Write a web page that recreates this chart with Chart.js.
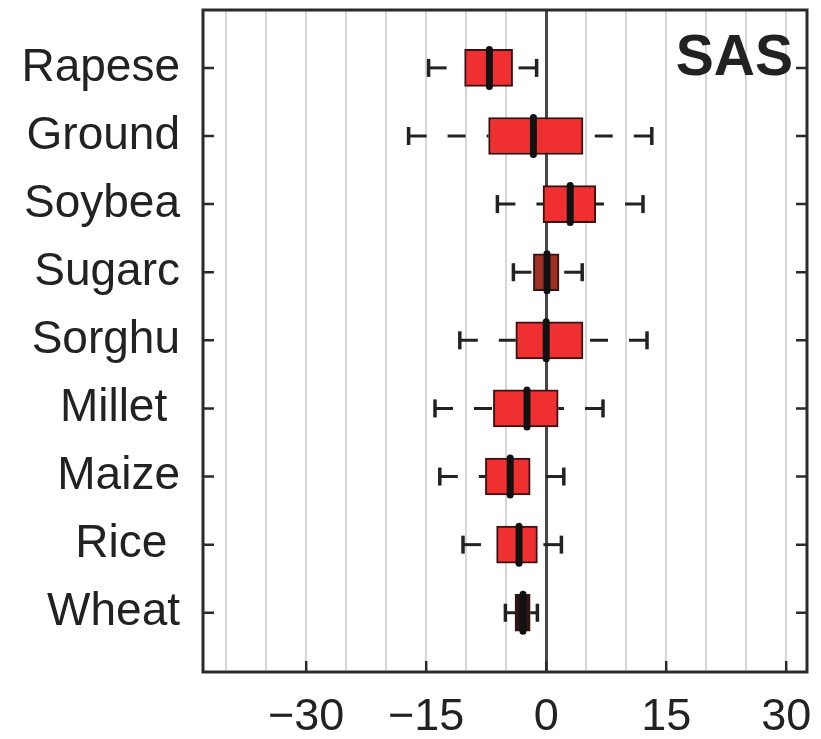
<!DOCTYPE html>
<html>
<head>
<meta charset="utf-8">
<script src="https://cdn.jsdelivr.net/npm/chart.js@4.4.1/dist/chart.umd.min.js"></script>
<style>
  html, body { margin: 0; padding: 0; background: #fff; }
</style>
</head>
<body>
<canvas id="boxChart" width="821" height="739"></canvas>
<script>
// crops, top to bottom
const crops = ["Rapese", "Ground", "Soybea", "Sugarc", "Sorghu", "Millet ", "Maize", "Rice ", "Wheat"];

// box statistics (% change)
const whiskerLow  = [-14.7, -17.2, -6.1, -4.1, -10.8, -13.9, -13.3, -10.4, -5.1];
const quart1      = [-10.2,  -7.2, -0.4, -1.6,  -3.8,  -6.6,  -7.6,  -6.2, -3.9];
const median      = [ -7.1,  -1.6,  3.0,  0.1,   0.0,  -2.4,  -4.5,  -3.4, -2.9];
const quart3      = [ -4.2,   4.6,  6.2,  1.6,   4.6,   1.5,  -2.0,  -1.1, -2.0];
const whiskerHigh = [ -1.2,  13.2, 12.1,  4.5,  12.6,   7.1,   2.2,   1.9, -1.1];

const boxColors = ["#f03030", "#f03030", "#f03030", "#9e3026", "#f03030", "#f03030", "#f03030", "#f03030", "#2a1616"];

const tickValues = [-30, -15, 0, 15, 30];
const gridValues = [-40, -35, -30, -25, -20, -15, -10, -5, 0, 5, 10, 15, 20, 25, 30];

const regionLabel = "SAS";

const BOX_H = 37;
const INK = "#222";

Chart.defaults.font.family = '"Liberation Sans", Arial, sans-serif';
Chart.defaults.color = INK;

const boxParts = {
  id: "boxParts",
  afterDatasetsDraw(chart) {
    const { ctx, scales: { x, y } } = chart;
    ctx.save();
    crops.forEach((c, i) => {
      const py = y.getPixelForValue(i);
      ctx.strokeStyle = INK;

      // dashed whiskers, dash pattern starts at the cap
      ctx.lineWidth = 3;
      ctx.setLineDash([18, 21]);
      [[whiskerLow[i], quart1[i]], [whiskerHigh[i], quart3[i]]].forEach(([from, to]) => {
        ctx.beginPath();
        ctx.moveTo(x.getPixelForValue(from), py);
        ctx.lineTo(x.getPixelForValue(to), py);
        ctx.stroke();
      });
      ctx.setLineDash([]);

      // caps
      ctx.lineWidth = 3.5;
      [whiskerLow[i], whiskerHigh[i]].forEach(v => {
        const px = x.getPixelForValue(v);
        ctx.beginPath();
        ctx.moveTo(px, py - 9);
        ctx.lineTo(px, py + 9);
        ctx.stroke();
      });

      // median bar
      ctx.strokeStyle = "#111";
      ctx.lineWidth = 7;
      ctx.lineCap = "round";
      const mx = x.getPixelForValue(median[i]);
      ctx.beginPath();
      ctx.moveTo(mx, py - BOX_H / 2);
      ctx.lineTo(mx, py + BOX_H / 2);
      ctx.stroke();
      ctx.lineCap = "butt";
    });
    ctx.restore();
  },
  afterDraw(chart) {
    const { ctx, chartArea: a, scales: { x, y } } = chart;
    ctx.save();
    ctx.strokeStyle = "#2b2b2b";
    ctx.lineWidth = 3;
    ctx.strokeRect(a.left, a.top, a.right - a.left, a.bottom - a.top);

    // inward tick marks
    ctx.lineWidth = 2.5;
    crops.forEach((c, i) => {
      const py = y.getPixelForValue(i);
      ctx.beginPath();
      ctx.moveTo(a.left, py); ctx.lineTo(a.left + 11, py);
      ctx.moveTo(a.right, py); ctx.lineTo(a.right - 11, py);
      ctx.stroke();
    });
    tickValues.forEach(v => {
      const px = x.getPixelForValue(v);
      ctx.beginPath();
      ctx.moveTo(px, a.bottom); ctx.lineTo(px, a.bottom - 11);
      ctx.stroke();
    });

    ctx.fillStyle = INK;
    ctx.font = 'bold 57px "Liberation Sans", Arial, sans-serif';
    ctx.textAlign = "right";
    ctx.textBaseline = "alphabetic";
    ctx.fillText(regionLabel, a.right - 14, a.top + 65);
    ctx.restore();
  }
};

new Chart(document.getElementById("boxChart"), {
  type: "bar",
  data: {
    datasets: [{
      data: crops.map((c, i) => ({ x: [quart1[i], quart3[i]], y: i })),
      backgroundColor: boxColors,
      borderColor: "#3a1212",
      borderWidth: 2,
      borderSkipped: false,
      barThickness: BOX_H
    }]
  },
  options: {
    indexAxis: "y",
    responsive: false,
    animation: false,
    layout: { padding: { top: 10, right: 14, left: 0, bottom: 0 } },
    plugins: { legend: { display: false }, tooltip: { enabled: false } },
    scales: {
      x: {
        type: "linear",
        min: -42.9,
        max: 32.6,
        afterBuildTicks: s => { s.ticks = gridValues.map(v => ({ value: v })); },
        afterFit: s => { s.height = 67; s.paddingLeft = 0; s.paddingRight = 0; },
        border: { display: false },
        grid: {
          drawTicks: false,
          color: c => c.tick && c.tick.value === 0 ? "#474747" : "#d6d6d6",
          lineWidth: c => c.tick && c.tick.value === 0 ? 3 : 2
        },
        ticks: {
          autoSkip: false,
          maxRotation: 0,
          padding: 19,
          font: { size: 45 },
          color: INK,
          callback: v => tickValues.includes(v) ? (v < 0 ? "\u2212" + Math.abs(v) : String(v)) : ""
        }
      },
      y: {
        type: "linear",
        reverse: true,
        offset: false,
        min: -0.85,
        max: 8.87,
        afterBuildTicks: s => { s.ticks = crops.map((c, i) => ({ value: i })); },
        afterFit: s => { s.width = 203; s.paddingTop = 0; s.paddingBottom = 0; },
        border: { display: false },
        grid: { display: false, drawTicks: false },
        ticks: {
          autoSkip: false,
          padding: 23,
          font: { size: 46 },
          color: INK,
          callback: v => crops[v]
        }
      }
    }
  },
  plugins: [boxParts]
});
</script>
</body>
</html>
